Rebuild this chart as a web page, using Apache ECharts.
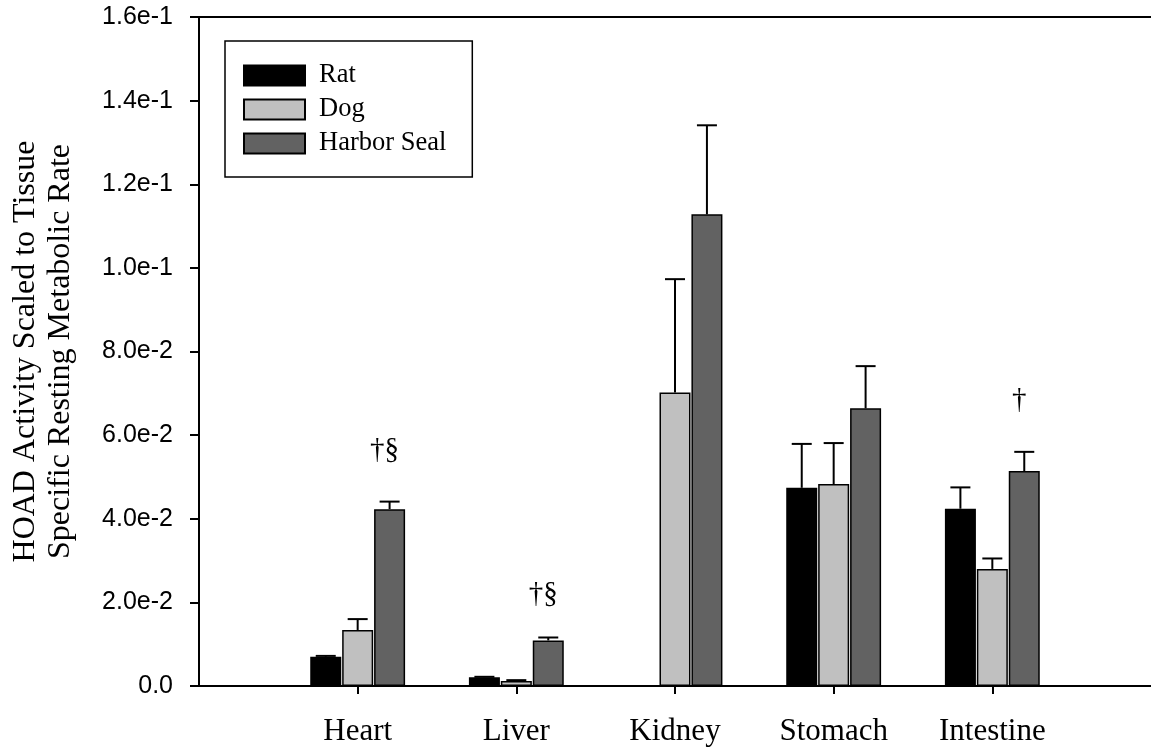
<!DOCTYPE html>
<html>
<head>
<meta charset="utf-8">
<script src="https://cdn.jsdelivr.net/npm/echarts@6/dist/echarts.min.js"></script>
<style>
html,body{margin:0;padding:0;background:#fff;}
#chart{width:1151px;height:754px;}
</style>
</head>
<body>
<div id="chart"></div>
<script>
// ---- data ----
const categories = ['Heart', 'Liver', 'Kidney', 'Stomach', 'Intestine'];
const seriesNames = ['Rat', 'Dog', 'Harbor Seal'];
const ratMean  = [0.0070, 0.0021, null,   0.0474, 0.0424];
const ratErr   = [0.0002, 0.0001, null,   0.0105, 0.0051];
const dogMean  = [0.0134, 0.0012, 0.0702, 0.0483, 0.0280];
const dogErr   = [0.0026, 0.0002, 0.0271, 0.0098, 0.0025];
const sealMean = [0.0423, 0.0109, 0.1128, 0.0664, 0.0514];
const sealErr  = [0.0018, 0.0007, 0.0213, 0.0101, 0.0046];
const yTickLabels = ['0.0', '2.0e-2', '4.0e-2', '6.0e-2', '8.0e-2', '1.0e-1', '1.2e-1', '1.4e-1', '1.6e-1'];
const annotCategories = ['Heart', 'Liver', 'Intestine'];
const annotValues = [0.0564, 0.0220, 0.0682];
const annotTexts = ['†§', '†§', '†'];

// ---- styling ----
const colors = ['#000000', '#c0c0c0', '#626262'];
const BAR_W = 31;
const BAR_GAP = 0.03;
const PITCH = BAR_W * (1 + BAR_GAP);
const serif = '"Liberation Serif", "Times New Roman", serif';
const sans = '"Liberation Sans", Arial, sans-serif';

const axisCats = [''].concat(categories, ['']);
const means = [ratMean, dogMean, sealMean];
const errs = [ratErr, dogErr, sealErr];

function pad(arr) { return [null].concat(arr, [null]); }

const series = [];
seriesNames.forEach((name, k) => {
  series.push({
    name: name,
    type: 'bar',
    xAxisIndex: 0,
    data: pad(means[k]),
    barWidth: BAR_W,
    barGap: (BAR_GAP * 100) + '%',
    itemStyle: { color: colors[k], borderColor: '#000', borderWidth: 1.5 },
    emphasis: { disabled: true },
    silent: true,
    z: 2
  });
});
seriesNames.forEach((name, k) => {
  const d = [];
  means[k].forEach((m, i) => {
    if (m !== null && errs[k][i] !== null) d.push([i + 1, m, m + errs[k][i]]);
  });
  series.push({
    type: 'custom',
    xAxisIndex: 0,
    data: d,
    silent: true,
    z: 5,
    renderItem: function (params, api) {
      const b = api.coord([api.value(0), api.value(1)]);
      const t = api.coord([api.value(0), api.value(2)]);
      const x = b[0] + (k - 1) * PITCH;
      return {
        type: 'group',
        children: [
          { type: 'line', shape: { x1: x, y1: b[1], x2: x, y2: t[1] }, style: { stroke: '#000', lineWidth: 2 } },
          { type: 'line', shape: { x1: x - 10, y1: t[1], x2: x + 10, y2: t[1] }, style: { stroke: '#000', lineWidth: 2 } }
        ]
      };
    }
  });
});
series.push({
  type: 'custom',
  xAxisIndex: 0,
  silent: true,
  z: 6,
  data: annotCategories.map((c, i) => [categories.indexOf(c) + 1, annotValues[i], i]),
  renderItem: function (params, api) {
    const p = api.coord([api.value(0), api.value(1)]);
    return {
      type: 'text',
      x: p[0] + PITCH - 5,
      y: p[1],
      style: {
        text: annotTexts[api.value(2)],
        font: '29px ' + serif,
        fill: '#000',
        align: 'center',
        verticalAlign: 'middle'
      }
    };
  }
});

const chart = echarts.init(document.getElementById('chart'), null, { renderer: 'canvas' });
chart.setOption({
  animation: false,
  backgroundColor: '#fff',
  grid: { left: 199, top: 17, right: 0, bottom: 68, containLabel: false, outerBoundsMode: 'none' },
  legend: {
    data: seriesNames,
    orient: 'vertical',
    left: 225,
    top: 41,
    padding: [21, 26, 20, 18],
    itemWidth: 61,
    itemHeight: 20,
    itemGap: 7,
    icon: 'rect',
    borderColor: '#000',
    borderWidth: 1.5,
    backgroundColor: '#fff',
    selectedMode: false,
    textStyle: { fontFamily: serif, fontSize: 26.5, color: '#000', padding: [0, 0, 0, 9] }
  },
  xAxis: [
    {
      type: 'category',
      data: axisCats,
      boundaryGap: false,
      position: 'bottom',
      axisLine: { show: true, lineStyle: { color: '#000', width: 2 } },
      axisTick: {
        show: true, length: 8, inside: false,
        lineStyle: { color: '#000', width: 2 },
        interval: function (idx) { return idx >= 1 && idx <= categories.length; }
      },
      axisLabel: { interval: 0, margin: 30, fontFamily: serif, fontSize: 31, color: '#000' },
      splitLine: { show: false }
    },
    {
      type: 'category',
      data: axisCats,
      boundaryGap: false,
      position: 'top',
      axisLine: { show: true, lineStyle: { color: '#000', width: 2 } },
      axisTick: { show: false },
      axisLabel: { show: false },
      splitLine: { show: false }
    }
  ],
  yAxis: {
    type: 'value',
    min: 0,
    max: 0.16,
    interval: 0.02,
    name: 'HOAD Activity Scaled to Tissue\nSpecific Resting Metabolic Rate',
    nameLocation: 'middle',
    nameRotate: 90,
    nameGap: 121,
    nameTextStyle: { fontFamily: serif, fontSize: 32, color: '#000', lineHeight: 35, align: 'center' },
    axisLine: { show: true, lineStyle: { color: '#000', width: 2 } },
    axisTick: { show: true, length: 9, lineStyle: { color: '#000', width: 2 } },
    axisLabel: {
      margin: 26,
      fontFamily: sans,
      fontSize: 25,
      color: '#000',
      formatter: function (v) { return yTickLabels[Math.round(v / 0.02)]; }
    },
    splitLine: { show: false }
  },
  series: series
});
</script>
</body>
</html>
